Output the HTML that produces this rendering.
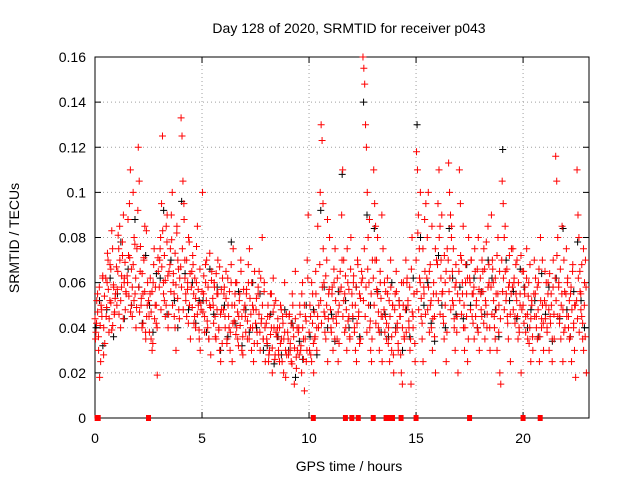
<!DOCTYPE html>
<html><head><meta charset="utf-8"><style>
body{margin:0;background:#fff}
svg{display:block;font-family:"Liberation Sans",sans-serif}
</style></head><body>
<svg id="chart" width="640" height="480" viewBox="0 0 640 480">
<text x="349" y="33" text-anchor="middle" font-size="14">Day 128 of 2020, SRMTID for receiver p043</text>
<text x="349" y="471" text-anchor="middle" font-size="14">GPS time / hours</text>
<text transform="translate(19,238) rotate(-90)" text-anchor="middle" font-size="14">SRMTID / TECUs</text>
<g id="grid"></g><g id="axes"></g><g id="black"></g><g id="red"></g>
</svg>
<script>
const X0=95,X1=589,XMAX=23.08,Y0=418,Y1=57,YMAX=0.16;
const xTicks=[0,5,10,15,20];
const yTicks=[0,0.02,0.04,0.06,0.08,0.1,0.12,0.14,0.16];
const yTickLabels=["0","0.02","0.04","0.06","0.08","0.1","0.12","0.14","0.16"];
const binHours=[0,0.5,1,1.5,2,2.5,3,3.5,4,4.5,5,5.5,6,6.5,7,7.5,8,8.5,9,9.5,10,10.5,11,11.5,12,12.5,13,13.5,14,14.5,15,15.5,16,16.5,17,17.5,18,18.5,19,19.5,20,20.5,21,21.5,22,22.5];
const redVals=[
[35,42,55,30,18,25,48,62,40,33],[45,60,70,38,52,66,83,41,58,47,55],[50,65,75,85,40,58,72,90,62,48,55],[60,72,95,110,50,45,68,80,55,40,75],
[120,105,65,50,40,55,70,85,35,45,60],[45,55,35,30,60,75,50,42,19,65],[70,80,95,125,60,52,45,85,90,40,65],[75,90,100,60,55,40,30,85,70,48,62],
[133,125,105,95,70,55,45,60,80,50,35],[65,72,55,45,40,60,85,50,35,30,48],[100,55,45,60,70,40,35,50,28,65],[50,60,45,35,55,70,40,30,25,48,62],
[55,45,65,35,50,40,30,60,25,75],[50,60,40,35,45,55,70,30,28,48],[45,55,35,60,75,40,30,50,25,65],[48,38,55,65,30,42,80,35,60,25],
[35,45,25,30,55,40,20,62,50,28,38],[40,30,25,50,35,45,20,60,18,28],[35,45,30,25,55,40,15,65,22,30],[40,50,30,20,60,35,12,45,25,70,90],
[30,45,25,55,20,35,65,40,85,50],[100,130,123,95,60,45,35,70,25,55,80],[40,55,30,60,75,45,35,25,50,65],[90,110,70,55,40,30,60,45,35,80],
[50,60,40,30,25,70,45,55,35,65],[160,155,148,130,120,100,80,60,40,30,25,70],[110,95,85,70,55,40,30,60,45,25,75],[60,45,35,55,40,25,70,30,50,20],
[55,65,40,30,50,45,20,15,60,35],[70,60,50,40,30,15,80,45,55,25],[118,110,90,75,60,45,35,25,55,65,95],[80,100,65,50,40,30,55,45,20,70],
[95,110,85,70,55,45,35,60,25,75],[113,100,90,80,65,50,40,30,60,45,20],[110,95,70,55,40,30,60,45,25,80],[60,70,45,55,35,65,50,40,80,30],
[55,45,65,75,35,50,40,85,60,30],[90,70,60,45,35,55,30,80,50,20,15],[105,95,80,65,55,45,35,60,25,75],[75,60,45,55,70,35,40,50,20,65],
[65,55,45,75,35,60,40,25,50,30],[70,55,45,35,60,25,80,40,50,30],[65,50,40,60,30,45,55,25,70,35],[116,105,80,60,45,35,55,25,70,40],
[75,60,45,35,55,25,65,40,50,18],[110,90,80,65,55,45,35,30,60,70,20]];
const redVals2=[
[44,38,52,47,36,58,41,50,45,63,28,54],[62,49,73,57,44,68,51,39,75,59,46,53],[67,57,81,46,70,52,63,78,44,60,69,56],[63,88,54,71,47,66,58,100,52,77,62,49],
[92,58,47,76,53,64,42,71,56,38,83,50],[52,38,62,47,56,33,68,44,58,50,40,71],[58,75,48,67,83,55,72,61,50,78,63,46],[68,56,79,50,64,45,73,59,82,53,66,44],
[67,58,75,48,88,62,52,70,57,42,78,64],[58,49,68,42,62,53,76,46,57,39,66,51],[56,47,63,38,68,52,43,58,35,73,49,61],[53,42,58,36,64,48,55,39,67,46,57,33],
[48,58,40,53,33,62,45,56,38,68,50,42],[43,55,37,60,47,32,52,41,65,45,36,57],[50,38,57,43,68,35,53,46,60,40,48,33],[42,53,33,58,46,38,62,44,50,35,56,40],
[42,33,50,28,45,37,55,31,47,40,26,52],[36,44,28,40,33,48,25,42,35,38,30,46],[38,28,46,33,42,24,50,36,31,44,27,40],[38,28,46,32,55,40,26,50,35,43,30,62],
[38,50,28,60,42,33,47,36,55,30,45,40],[68,52,42,58,75,47,38,63,50,88,44,57],[48,38,58,44,66,35,52,42,62,47,33,56],[58,70,45,52,38,63,48,75,43,57,36,66],
[55,45,63,38,50,58,42,68,47,33,53,60],[62,52,75,45,58,38,66,50,88,43,55,35],[62,50,70,42,57,80,47,38,65,53,90,45],[48,38,56,42,62,33,52,45,58,36,50,28],
[48,38,56,42,33,52,45,28,60,40,50,36],[48,38,62,52,43,58,35,66,47,40,55,33],[70,56,82,48,62,100,53,42,75,58,88,46],[62,48,58,38,68,52,85,44,60,36,75,55],
[68,52,80,46,62,90,56,42,72,50,65,38],[70,56,62,48,85,52,75,44,58,68,38,55],[65,52,72,46,60,85,50,40,68,55,62,35],[62,48,70,55,42,58,75,45,52,66,38,57],
[62,48,70,56,42,66,52,78,46,58,68,40],[58,46,66,52,40,62,48,72,55,38,65,44],[70,56,62,48,85,52,66,42,58,72,46,55],[58,48,62,42,68,52,45,60,38,55,72,48],
[50,42,58,38,62,46,54,33,68,44,52,36],[55,45,62,40,58,48,66,36,52,44,70,42],[52,44,60,38,55,48,64,42,50,35,58,46],[62,52,72,45,58,42,66,50,85,48,38,56],
[55,45,62,40,52,36,58,48,68,42,30,50],[52,44,62,38,56,48,68,42,75,50,36,58]];
const blackVals=[
[40,52,32],[48,62,36],[55,78,44],[66,50,88],[58,42,72],[50,38,64],[62,92,46],[70,52,40],[96,64,48],[60,42,52],[52,38,66],[46,58,30],
[50,36,78],[42,56,32],[48,38,60],[40,55,30],[32,46,24],[36,28,48],[30,42,18],[34,26,50],[36,48,28],[92,58,40],[46,34,56],[108,52,40],
[44,58,36],[140,90,50],[84,56,38],[46,36,60],[40,52,30],[48,36,62],[130,80,50],[60,42,34],[72,50,40],[84,62,46],[58,44,68],[50,62,40],
[56,46,70],[62,48,36],[119,70,52],[56,44,66],[58,40,48],[52,36,64],[46,58,34],[62,44,84],[48,36,56],[78,52,40]];
const zeroHours=[0.1,0.15,2.5,10.2,11.7,12.0,12.3,13.0,13.6,13.8,13.9,14.3,15.0,17.5,20.0,20.8];
const NS="http://www.w3.org/2000/svg";
const sx=h=>X0+(X1-X0)*h/XMAX, sy=v=>Y0-(Y0-Y1)*v/YMAX;
function mk(tag,attrs,parent){const e=document.createElementNS(NS,tag);for(const k in attrs)e.setAttribute(k,attrs[k]);parent.appendChild(e);return e;}
const grid=document.getElementById('grid'),axes=document.getElementById('axes');
yTicks.forEach((t,i)=>{const y=sy(t);
 if(i>0&&i<yTicks.length-1){const g=mk('line',{x1:X0,x2:X1,y1:y,y2:y,stroke:'#a0a0a0','stroke-dasharray':'1,3'},grid);}
 mk('line',{x1:X0,x2:X0+6,y1:y,y2:y,stroke:'#000'},axes);mk('line',{x1:X1,x2:X1-6,y1:y,y2:y,stroke:'#000'},axes);
 const tx=mk('text',{x:X0-9,y:y+5,'text-anchor':'end','font-size':14},axes);tx.textContent=yTickLabels[i];
 
 });
xTicks.forEach(t=>{const x=sx(t);
 if(t>0){const g=mk('line',{x1:x,x2:x,y1:Y0,y2:Y1,stroke:'#a0a0a0','stroke-dasharray':'1,3'},grid);}
 mk('line',{x1:x,x2:x,y1:Y0,y2:Y0-6,stroke:'#000'},axes);mk('line',{x1:x,x2:x,y1:Y1,y2:Y1+6,stroke:'#000'},axes);
 const tx=mk('text',{x:x,y:Y0+25,'text-anchor':'middle','font-size':14},axes);tx.textContent=String(t);
 
 });
const frame=mk('rect',{x:X0,y:Y1,width:X1-X0,height:Y0-Y1,fill:'none',stroke:'#000'},axes);


function plus(g,h,v,col){const x=sx(h),y=sy(v);
 const p=mk('path',{d:`M${x-3.5},${y}h7M${x},${y-3.5}v7`,stroke:col,'stroke-width':1,fill:'none'},g);
 
 }
function series(id,vals,col,shift){const g=document.getElementById(id);
 binHours.forEach((b,i)=>{const arr=vals[i];arr.forEach((v,j)=>{plus(g,b+(j+shift)/arr.length*0.48,v/1000,col);});});}
series('black',blackVals,'#000',0.3);
series('red',redVals,'#ff0000',0.5);
series('red',redVals2,'#ff0000',0.05);
const rg=document.getElementById('red');
zeroHours.forEach(h=>{const r=mk('rect',{x:sx(h)-2.5,y:Y0-3,width:5,height:6,fill:'#ff0000'},rg);
 
 });
</script>
</body></html>
